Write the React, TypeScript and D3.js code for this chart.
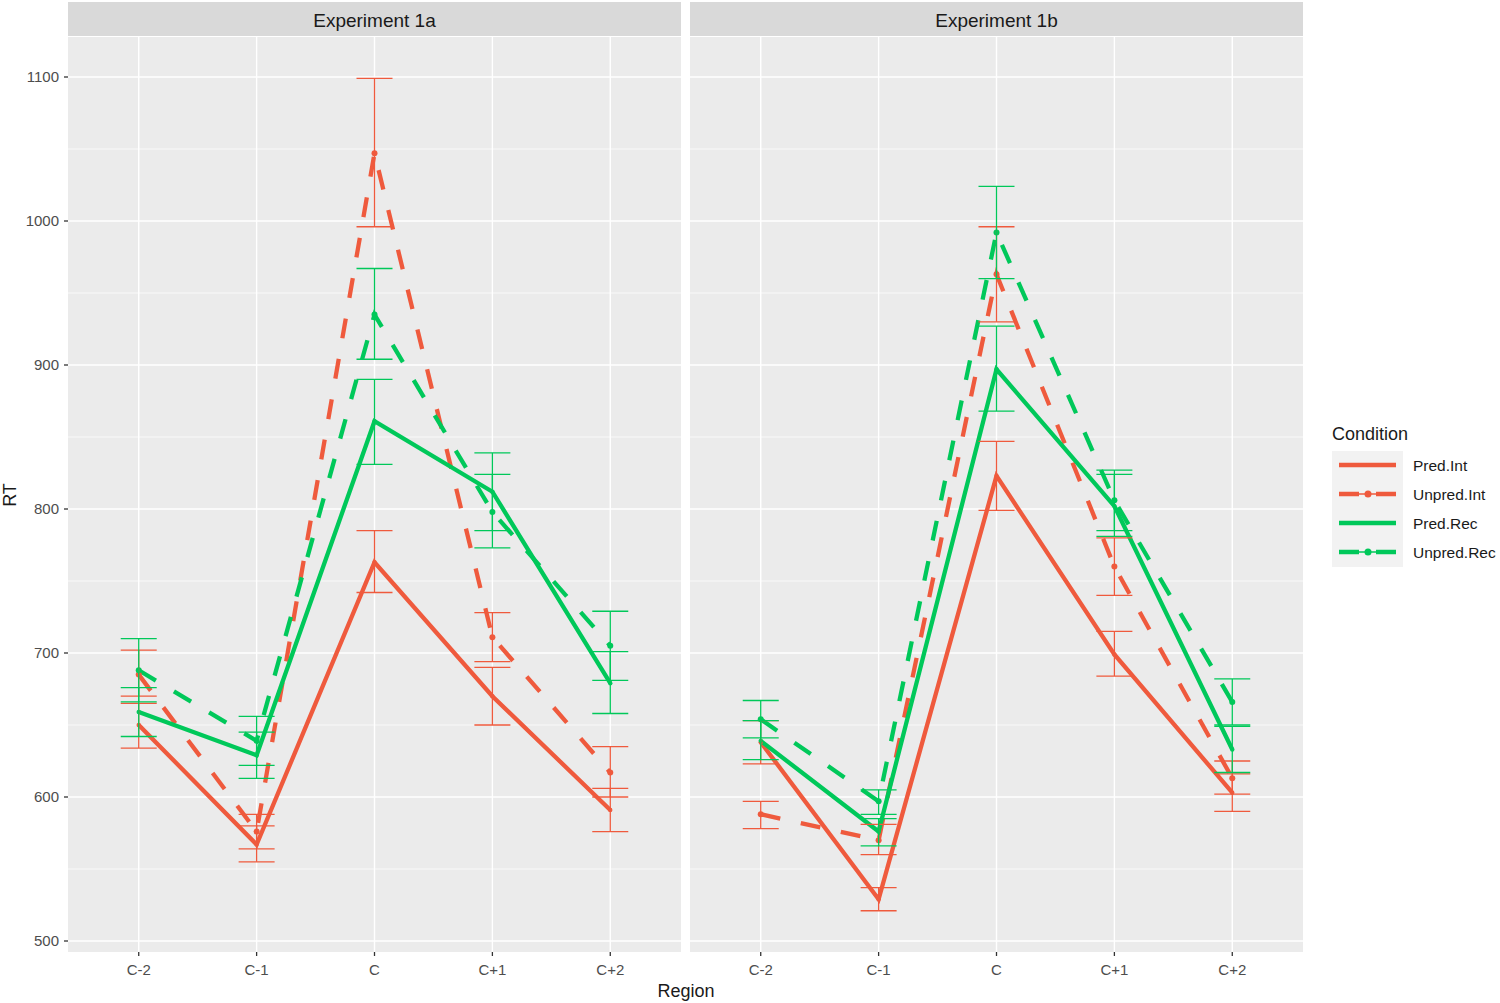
import React from 'react';
import * as d3 from 'd3';

// ---- data ----
const regions = ["C-2", "C-1", "C", "C+1", "C+2"];
const conditions = ["Pred.Int", "Unpred.Int", "Pred.Rec", "Unpred.Rec"];
const experiments = ["Experiment 1a", "Experiment 1b"];
const yTicks = [500, 600, 700, 800, 900, 1000, 1100];
const yMinor = [550, 650, 750, 850, 950, 1050];

// Experiment 1a: mean, lower and upper end of error bar
const predInt1a = [650, 567, 763, 670, 591];
const predInt1aLo = [634, 555, 742, 650, 576];
const predInt1aHi = [665, 580, 785, 690, 606];
const unpredInt1a = [685, 576, 1047, 711, 617];
const unpredInt1aLo = [670, 564, 996, 694, 600];
const unpredInt1aHi = [702, 588, 1099, 728, 635];
const predRec1a = [659, 629, 861, 812, 679];
const predRec1aLo = [642, 613, 831, 785, 658];
const predRec1aHi = [676, 645, 890, 839, 701];
const unpredRec1a = [688, 639, 935, 798, 705];
const unpredRec1aLo = [666, 622, 904, 773, 681];
const unpredRec1aHi = [710, 656, 967, 824, 729];

// Experiment 1b
const predInt1b = [638, 529, 823, 699, 603];
const predInt1bLo = [623, 521, 799, 684, 590];
const predInt1bHi = [653, 537, 847, 715, 616];
const unpredInt1b = [588, 570, 963, 760, 613];
const unpredInt1bLo = [578, 560, 930, 740, 602];
const unpredInt1bHi = [597, 581, 996, 780, 625];
const predRec1b = [639, 576, 897, 802, 633];
const predRec1bLo = [626, 566, 868, 781, 617];
const predRec1bHi = [653, 585, 927, 824, 649];
const unpredRec1b = [654, 597, 992, 806, 666];
const unpredRec1bLo = [641, 588, 960, 785, 650];
const unpredRec1bHi = [667, 605, 1024, 827, 682];

const seriesByExp = [
	[
		[predInt1a, predInt1aLo, predInt1aHi],
		[unpredInt1a, unpredInt1aLo, unpredInt1aHi],
		[predRec1a, predRec1aLo, predRec1aHi],
		[unpredRec1a, unpredRec1aLo, unpredRec1aHi],
	],
	[
		[predInt1b, predInt1bLo, predInt1bHi],
		[unpredInt1b, unpredInt1bLo, unpredInt1bHi],
		[predRec1b, predRec1bLo, predRec1bHi],
		[unpredRec1b, unpredRec1bLo, unpredRec1bHi],
	],
];

const RED = "#EF5A3D";
const GREEN = "#00C85A";
const colorOf = (c: string) => (c.endsWith("Int") ? RED : GREEN);
const dashOf = (c: string) => (c.startsWith("Unpred") ? "20,21" : null);

const FONT = "'Liberation Sans', Arial, sans-serif";
const W = 1500, H = 1003;
const panelTop = 37, panelBottom = 952, stripTop = 2;
const panelX = [[68, 681], [690, 1303]];

const y = d3.scaleLinear().domain([500, 1100]).range([941, 77]);

const Panel = (props: { idx: number }) => {
	const [x0, x1] = panelX[props.idx];
	const x = d3.scalePoint<string>().domain(regions).range([x0, x1]).padding(0.6);
	const series = seriesByExp[props.idx];
	const line = d3.line<number>()
		.x((_, i) => x(regions[i])!)
		.y((d) => y(d));
	return (
		<g>
			<rect x={x0} y={stripTop} width={x1 - x0} height={panelTop - stripTop - 1} fill="#D9D9D9" />
			<text x={(x0 + x1) / 2} y={27} textAnchor="middle" fontSize={19} fill="#1A1A1A" fontFamily={FONT}>
				{experiments[props.idx]}
			</text>
			<rect x={x0} y={panelTop} width={x1 - x0} height={panelBottom - panelTop} fill="#EBEBEB" />
			{yMinor.map((t) => (
				<line key={"m" + t} x1={x0} x2={x1} y1={y(t)} y2={y(t)} stroke="white" strokeWidth={0.7} />
			))}
			{yTicks.map((t) => (
				<line key={"g" + t} x1={x0} x2={x1} y1={y(t)} y2={y(t)} stroke="white" strokeWidth={1.4} />
			))}
			{regions.map((r) => (
				<line key={"v" + r} x1={x(r)} x2={x(r)} y1={panelTop} y2={panelBottom} stroke="white" strokeWidth={1.4} />
			))}
			{/* lines */}
			{conditions.map((c, ci) => (
				<path key={"l" + c} d={line(series[ci][0])!} fill="none" stroke={colorOf(c)}
					strokeWidth={4.3} strokeDasharray={dashOf(c) ?? undefined} />
			))}
			{/* points */}
			{conditions.map((c, ci) =>
				series[ci][0].map((v, i) => (
					<circle key={"p" + c + i} cx={x(regions[i])} cy={y(v)} r={c.startsWith("Unpred") ? 3 : 2.2} fill={colorOf(c)} />
				))
			)}
			{/* error bars */}
			{conditions.map((c, ci) =>
				regions.map((r, i) => {
					const cx = x(r)!;
					const lo = y(series[ci][1][i]);
					const hi = y(series[ci][2][i]);
					return (
						<g key={"e" + c + i} stroke={colorOf(c)} strokeWidth={1.3}>
							<line x1={cx} x2={cx} y1={lo} y2={hi} />
							<line x1={cx - 18} x2={cx + 18} y1={lo} y2={lo} />
							<line x1={cx - 18} x2={cx + 18} y1={hi} y2={hi} />
						</g>
					);
				})
			)}
			{/* x axis */}
			{regions.map((r) => (
				<g key={"xt" + r}>
					<line x1={x(r)} x2={x(r)} y1={panelBottom} y2={panelBottom + 4} stroke="#333333" strokeWidth={1.3} />
					<text x={x(r)} y={975} textAnchor="middle" fontSize={15} fill="#4D4D4D" fontFamily={FONT}>{r}</text>
				</g>
			))}
		</g>
	);
};

const Legend = () => {
	const lx = 1332, ly = 451, rowH = 29;
	return (
		<g fontFamily={FONT}>
			<text x={lx} y={440} fontSize={18} fill="#1A1A1A">Condition</text>
			<rect x={lx} y={ly} width={71} height={rowH * 4} fill="#F2F2F2" />
			{conditions.map((c, i) => {
				const cy = ly + rowH * i + 14;
				return (
					<g key={c}>
						<line x1={lx + 7} x2={lx + 64} y1={cy} y2={cy} stroke={colorOf(c)} strokeWidth={1.3} />
						<line x1={lx + 7} x2={lx + 64} y1={cy} y2={cy} stroke={colorOf(c)} strokeWidth={4.3}
							strokeDasharray={dashOf(c) ? "20,17" : undefined} />
						<circle cx={lx + 36} cy={cy} r={c.startsWith("Unpred") ? 3.5 : 2} fill={colorOf(c)} />
						<text x={1413} y={cy + 5.5} fontSize={15.5} fill="#1A1A1A">{c}</text>
					</g>
				);
			})}
		</g>
	);
};

export default function App() {
	return (
		<svg width={W} height={H} style={{ position: 'absolute', left: 0, top: 0, background: 'white' }}>
			<rect width={W} height={H} fill="white" />
			<Panel idx={0} />
			<Panel idx={1} />
			{yTicks.map((t) => (
				<g key={"yt" + t}>
					<line x1={64} x2={68} y1={y(t)} y2={y(t)} stroke="#333333" strokeWidth={1.3} />
					<text x={59} y={y(t) + 5} textAnchor="end" fontSize={15} fill="#4D4D4D" fontFamily={FONT}>{t}</text>
				</g>
			))}
			<text x={686} y={997} textAnchor="middle" fontSize={18} fill="#1A1A1A" fontFamily={FONT}>Region</text>
			<text transform="translate(16,495) rotate(-90)" textAnchor="middle" fontSize={18} fill="#1A1A1A" fontFamily={FONT}>RT</text>
			<Legend />
		</svg>
	);
}
